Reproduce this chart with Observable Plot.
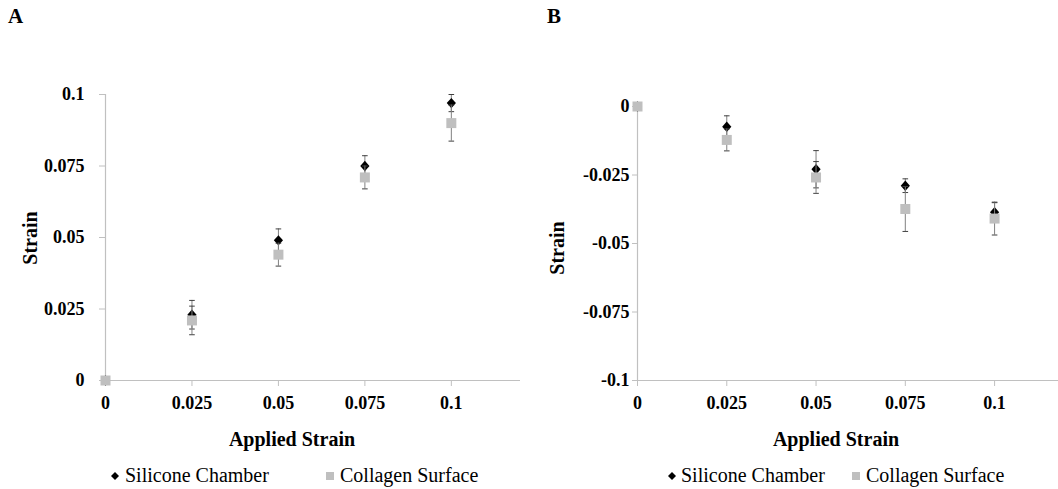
<!DOCTYPE html>
<html>
<head>
<meta charset="utf-8">
<script src="https://cdn.jsdelivr.net/npm/d3@7"></script>
<script src="https://cdn.jsdelivr.net/npm/@observablehq/plot@0.6"></script>
<style>
  html, body { margin: 0; padding: 0; background: #fff; }
  #root { position: relative; width: 1058px; height: 489px; overflow: hidden; background: #fff; font-family: "Liberation Serif", "Times New Roman", serif; color: #000; }
  .t { position: absolute; white-space: nowrap; line-height: 1; }
  .panel { position: absolute; top: 0; width: 529px; height: 489px; }
  .panel svg.plot { position: absolute; left: 0; top: 0; }
</style>
</head>
<body>
<div id="root"></div>
<script>
// ---------- data ----------
const appliedStrain = [0, 0.025, 0.05, 0.075, 0.1];

// Panel A
const siliconeA     = [0, 0.023, 0.049, 0.075, 0.097];
const siliconeErrA  = [0, 0.005, 0.004, 0.0036, 0.003];
const collagenA     = [0, 0.021, 0.044, 0.071, 0.090];
const collagenErrA  = [0, 0.005, 0.004, 0.004, 0.0063];

// Panel B
const siliconeB     = [0, -0.0074, -0.0229, -0.0289, -0.0386];
const siliconeErrB  = [0, 0.004, 0.0068, 0.0025, 0.0035];
const collagenB     = [0, -0.0122, -0.0259, -0.0374, -0.0409];
const collagenErrB  = [0, 0.004, 0.0058, 0.0082, 0.006];

const xTicks  = [0, 0.025, 0.05, 0.075, 0.1];
const yTicksA = [0, 0.025, 0.05, 0.075, 0.1];
const yTicksB = [0, -0.025, -0.05, -0.075, -0.1];

const seriesNames = ["Silicone Chamber", "Collagen Surface"];
const panelLetters = ["A", "B"];
const xTitle = "Applied Strain";
const yTitle = "Strain";

// ---------- helpers ----------
const toRows = (ys, es) => appliedStrain.map((x, i) => ({x, y: ys[i], e: es[i]}));
const capSymbol = { draw(ctx) { ctx.moveTo(-2.8, 0); ctx.lineTo(2.8, 0); } };
const diamondSymbol = { draw(ctx) { ctx.moveTo(0, -5.2); ctx.lineTo(4.6, 0); ctx.lineTo(0, 5.2); ctx.lineTo(-4.6, 0); ctx.closePath(); } };
const squareSymbol = { draw(ctx) { ctx.rect(-5, -5, 10, 10); } };
const AXIS = "#c0c0c0";
const SQUARE = "#bfbfbf";

function seriesMarks(rows, symbol, fill) {
  const err = rows.filter(d => d.e > 0);
  const caps = err.flatMap(d => [{x: d.x, y: d.y + d.e}, {x: d.x, y: d.y - d.e}]);
  return [
    Plot.ruleX(err, {x: "x", y1: d => d.y - d.e, y2: d => d.y + d.e, stroke: "#808080", strokeWidth: 1}),
    Plot.dot(caps, {x: "x", y: "y", symbol: capSymbol, r: 3, stroke: "#404040", strokeWidth: 1, fill: "none"}),
    Plot.dot(rows, {x: "x", y: "y", symbol, r: 5, fill, stroke: "none"})
  ];
}

function makePlot(cfg) {
  return Plot.plot({
    width: 529,
    height: 450,
    marginLeft: cfg.marginLeft,
    marginRight: cfg.marginRight,
    marginTop: cfg.marginTop,
    marginBottom: 70,
    x: {domain: cfg.xDomain, axis: null},
    y: {domain: cfg.yDomain, axis: null},
    style: {fontFamily: "'Liberation Serif', 'Times New Roman', serif", fontSize: "18px", fontWeight: "bold", color: "#000", background: "transparent"},
    marks: [
      Plot.ruleX([0], {stroke: AXIS, strokeWidth: 1.2}),
      Plot.ruleY([cfg.yDomain[0]], {stroke: AXIS, strokeWidth: 1.2}),
      Plot.axisY(cfg.yTicks, {tickSize: cfg.yTickSize, tickPadding: cfg.yTickPadding, stroke: AXIS, fill: "#000", tickFormat: d => String(d), label: null}),
      Plot.axisX(xTicks, {tickSize: 6, tickPadding: 10, stroke: AXIS, fill: "#000", tickFormat: d => String(d), label: null}),
      ...seriesMarks(toRows(cfg.sil, cfg.silErr), diamondSymbol, "#000"),
      ...seriesMarks(toRows(cfg.col, cfg.colErr), squareSymbol, SQUARE)
    ]
  });
}

function addText(parent, text, {left, baseline, size = 20, bold = false, anchor = "start"}) {
  const el = document.createElement("div");
  el.className = "t";
  el.textContent = text;
  el.style.fontSize = size + "px";
  el.style.fontWeight = bold ? "bold" : "normal";
  el.style.left = left + "px";
  el.style.top = (baseline - 0.8375 * size) + "px";
  if (anchor === "middle") el.style.transform = "translateX(-50%)";
  parent.appendChild(el);
  return el;
}

function addVertical(parent, text, cx, cy) {
  const el = document.createElement("div");
  el.className = "t";
  el.textContent = text;
  el.style.fontSize = "20px";
  el.style.fontWeight = "bold";
  el.style.left = cx + "px";
  el.style.top = cy + "px";
  el.style.transform = "translate(-50%, -50%) rotate(-90deg)";
  parent.appendChild(el);
}

function addLegendSymbol(parent, kind, cx, cy) {
  const ns = "http://www.w3.org/2000/svg";
  const s = document.createElementNS(ns, "svg");
  s.setAttribute("width", 12); s.setAttribute("height", 12);
  s.style.position = "absolute";
  s.style.left = (cx - 6) + "px";
  s.style.top = (cy - 6) + "px";
  const p = document.createElementNS(ns, "path");
  if (kind === "diamond") { p.setAttribute("d", "M6,2L10,6L6,10L2,6Z"); p.setAttribute("fill", "#000"); }
  else { p.setAttribute("d", "M2,2H10V10H2Z"); p.setAttribute("fill", SQUARE); }
  s.appendChild(p);
  parent.appendChild(s);
}

// ---------- layout ----------
const root = document.getElementById("root");
const panels = [
  {left: 0, letter: panelLetters[0], letterX: 8,
   marginLeft: 105, marginRight: 9, marginTop: 94, xDomain: [0, 0.12], yDomain: [0, 0.1], yTicks: yTicksA,
   yTickSize: 6, yTickPadding: 15,
   sil: siliconeA, silErr: siliconeErrA, col: collagenA, colErr: collagenErrA,
   yTitleX: 30, yTitleY: 238, xTitleX: 292,
   leg: [{sym: "diamond", cx: 115, tx: 125}, {sym: "square", cx: 330, tx: 340}]},
  {left: 529, letter: panelLetters[1], letterX: 18,
   marginLeft: 108, marginRight: 0, marginTop: 106, xDomain: [0, 0.1179], yDomain: [-0.1, 0], yTicks: yTicksB,
   yTickSize: 5, yTickPadding: 3,
   sil: siliconeB, silErr: siliconeErrB, col: collagenB, colErr: collagenErrB,
   yTitleX: 28, yTitleY: 248, xTitleX: 307,
   leg: [{sym: "diamond", cx: 143, tx: 152}, {sym: "square", cx: 327, tx: 337}]}
];

for (const p of panels) {
  const div = document.createElement("div");
  div.className = "panel";
  div.style.left = p.left + "px";
  root.appendChild(div);
  const svg = makePlot(p);
  svg.classList.add("plot");
  div.appendChild(svg);
  addText(div, p.letter, {left: p.letterX, baseline: 24, size: 21, bold: true});
  addVertical(div, yTitle, p.yTitleX, p.yTitleY);
  addText(div, xTitle, {left: p.xTitleX, baseline: 446, size: 20, bold: true, anchor: "middle"});
  p.leg.forEach((l, i) => {
    addLegendSymbol(div, l.sym, l.cx, 476);
    addText(div, seriesNames[i], {left: l.tx, baseline: 482, size: 20});
  });
}
</script>
</body>
</html>
